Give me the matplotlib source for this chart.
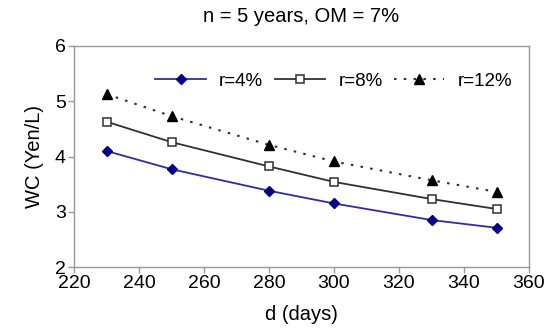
import matplotlib
matplotlib.use("Agg")
import matplotlib.pyplot as plt

plt.rcParams["font.family"] = ["Liberation Sans", "DejaVu Sans"]

# Data
days = [230, 250, 280, 300, 330, 350]
wc_r4 = [4.10, 3.77, 3.38, 3.15, 2.85, 2.71]
wc_r8 = [4.63, 4.26, 3.82, 3.54, 3.23, 3.05]
wc_r12 = [5.13, 4.73, 4.21, 3.91, 3.57, 3.36]

x_ticks = [220, 240, 260, 280, 300, 320, 340, 360]
y_ticks = [2, 3, 4, 5, 6]

fig = plt.figure(figsize=(5.47, 3.33), dpi=100)
ax = fig.add_axes([74 / 547, 1 - 267 / 333, (529 - 74) / 547, (267 - 46) / 333])

ax.plot(days, wc_r4, color="#2e2ea0", lw=1.3, marker="D", ms=5,
        mfc="#00008b", mec="#00008b", label="r=4%")
ax.plot(days, wc_r8, color="#303030", lw=1.3, marker="s", ms=6,
        mfc="white", mec="#303030", mew=1.1, label="r=8%")
ax.plot(days, wc_r12, color="#303030", lw=1.5, ls=(0, (1.2, 3.5)), marker="^", ms=7,
        mfc="black", mec="black", label="r=12%")

ax.set_xlim(220, 360)
ax.set_ylim(2, 6)
ax.set_xticks(x_ticks)
ax.set_yticks(y_ticks)
ax.tick_params(labelsize=14, color="#999999", length=4, width=1, pad=2)
for s in ax.spines.values():
    s.set_color("#999999")
    s.set_linewidth(1)

ax.set_xlabel("d (days)", fontsize=14.5, labelpad=9)
ax.set_ylabel("WC (Yen/L)", fontsize=14.5, labelpad=8)
ax.set_title("n = 5 years, OM = 7%", fontsize=14.5, pad=17)

ax.legend(loc="upper right", ncol=3, frameon=False, fontsize=13.5,
          handlelength=2.7, columnspacing=0.6, handletextpad=0.7,
          bbox_to_anchor=(1.0, 0.955))

fig.savefig("out.png", dpi=100)
